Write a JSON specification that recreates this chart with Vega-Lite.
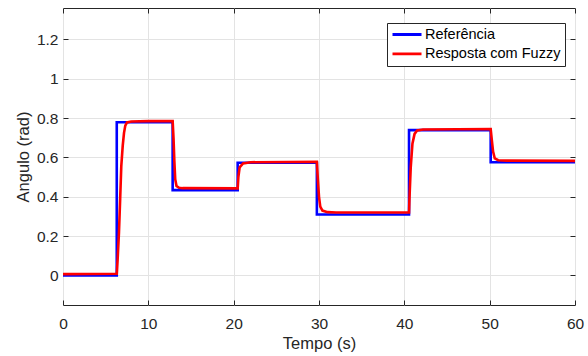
{
  "$schema": "https://vega.github.io/schema/vega-lite/v6.json",
  "width": 512,
  "height": 297,
  "autosize": {"type": "none"},
  "padding": {"left": 63, "top": 8, "right": 13, "bottom": 51},
  "background": "white",
  "config": {
    "font": "Liberation Sans",
    "view": {"stroke": "#262626", "strokeWidth": 1},
    "axis": {
      "domain": false,
      "tickColor": "#262626",
      "tickSize": -5,
      "tickWidth": 1,
      "labelColor": "#262626",
      "labelFont": "Liberation Sans",
      "labelFontSize": 15.5,
      "titleColor": "#262626",
      "titleFont": "Liberation Sans",
      "titleFontSize": 16.5,
      "titleFontWeight": "normal",
      "gridColor": "#e3e3e3",
      "gridWidth": 1
    },
    "legend": {
      "labelFont": "Liberation Sans",
      "labelFontSize": 14.5,
      "labelColor": "#000000"
    }
  },
  "data": {
    "values": [
      {"t": 0, "v": 0, "s": "Referência"},
      {"t": 6.3, "v": 0, "s": "Referência"},
      {"t": 6.3, "v": 0.779, "s": "Referência"},
      {"t": 12.85, "v": 0.779, "s": "Referência"},
      {"t": 12.85, "v": 0.434, "s": "Referência"},
      {"t": 20.47, "v": 0.434, "s": "Referência"},
      {"t": 20.47, "v": 0.573, "s": "Referência"},
      {"t": 29.75, "v": 0.573, "s": "Referência"},
      {"t": 29.75, "v": 0.31, "s": "Referência"},
      {"t": 40.55, "v": 0.31, "s": "Referência"},
      {"t": 40.55, "v": 0.739, "s": "Referência"},
      {"t": 50.12, "v": 0.739, "s": "Referência"},
      {"t": 50.12, "v": 0.576, "s": "Referência"},
      {"t": 60, "v": 0.576, "s": "Referência"},
      {"t": 0, "v": 0.007, "s": "Resposta com Fuzzy"},
      {"t": 6.3, "v": 0.009, "s": "Resposta com Fuzzy"},
      {"t": 6.4, "v": 0.08, "s": "Resposta com Fuzzy"},
      {"t": 6.56, "v": 0.22, "s": "Resposta com Fuzzy"},
      {"t": 6.7, "v": 0.39, "s": "Resposta com Fuzzy"},
      {"t": 6.83, "v": 0.556, "s": "Resposta com Fuzzy"},
      {"t": 7.0, "v": 0.66, "s": "Resposta com Fuzzy"},
      {"t": 7.15, "v": 0.725, "s": "Resposta com Fuzzy"},
      {"t": 7.3, "v": 0.762, "s": "Resposta com Fuzzy"},
      {"t": 7.5, "v": 0.778, "s": "Resposta com Fuzzy"},
      {"t": 8.0, "v": 0.783, "s": "Resposta com Fuzzy"},
      {"t": 10.0, "v": 0.785, "s": "Resposta com Fuzzy"},
      {"t": 12.85, "v": 0.785, "s": "Resposta com Fuzzy"},
      {"t": 12.95, "v": 0.7, "s": "Resposta com Fuzzy"},
      {"t": 13.05, "v": 0.58, "s": "Resposta com Fuzzy"},
      {"t": 13.15, "v": 0.49, "s": "Resposta com Fuzzy"},
      {"t": 13.3, "v": 0.455, "s": "Resposta com Fuzzy"},
      {"t": 13.6, "v": 0.446, "s": "Resposta com Fuzzy"},
      {"t": 14.0, "v": 0.444, "s": "Resposta com Fuzzy"},
      {"t": 20.47, "v": 0.443, "s": "Resposta com Fuzzy"},
      {"t": 20.55, "v": 0.5, "s": "Resposta com Fuzzy"},
      {"t": 20.7, "v": 0.55, "s": "Resposta com Fuzzy"},
      {"t": 21.1, "v": 0.57, "s": "Resposta com Fuzzy"},
      {"t": 22.0, "v": 0.576, "s": "Resposta com Fuzzy"},
      {"t": 29.75, "v": 0.578, "s": "Resposta com Fuzzy"},
      {"t": 29.85, "v": 0.5, "s": "Resposta com Fuzzy"},
      {"t": 30.0, "v": 0.4, "s": "Resposta com Fuzzy"},
      {"t": 30.15, "v": 0.35, "s": "Resposta com Fuzzy"},
      {"t": 30.4, "v": 0.33, "s": "Resposta com Fuzzy"},
      {"t": 31.0, "v": 0.322, "s": "Resposta com Fuzzy"},
      {"t": 32.0, "v": 0.32, "s": "Resposta com Fuzzy"},
      {"t": 40.55, "v": 0.32, "s": "Resposta com Fuzzy"},
      {"t": 40.6, "v": 0.39, "s": "Resposta com Fuzzy"},
      {"t": 40.75, "v": 0.55, "s": "Resposta com Fuzzy"},
      {"t": 40.95, "v": 0.67, "s": "Resposta com Fuzzy"},
      {"t": 41.2, "v": 0.72, "s": "Resposta com Fuzzy"},
      {"t": 41.5, "v": 0.737, "s": "Resposta com Fuzzy"},
      {"t": 42.2, "v": 0.742, "s": "Resposta com Fuzzy"},
      {"t": 50.12, "v": 0.745, "s": "Resposta com Fuzzy"},
      {"t": 50.25, "v": 0.69, "s": "Resposta com Fuzzy"},
      {"t": 50.4, "v": 0.63, "s": "Resposta com Fuzzy"},
      {"t": 50.6, "v": 0.595, "s": "Resposta com Fuzzy"},
      {"t": 51.0, "v": 0.586, "s": "Resposta com Fuzzy"},
      {"t": 52.0, "v": 0.584, "s": "Resposta com Fuzzy"},
      {"t": 60, "v": 0.583, "s": "Resposta com Fuzzy"}
    ]
  },
  "layer": [
    {
      "transform": [{"filter": "datum.s === 'Referência'"}],
      "mark": {"type": "line", "strokeWidth": 2.6},
      "encoding": {
        "x": {
          "field": "t", "type": "quantitative",
          "scale": {"domain": [0, 60], "nice": false, "zero": false},
          "axis": {"orient": "bottom", "values": [0, 10, 20, 30, 40, 50, 60], "grid": true, "title": "Tempo (s)", "labelPadding": 16, "titlePadding": 4, "labelFlush": false}
        },
        "y": {
          "field": "v", "type": "quantitative",
          "scale": {"domain": [-0.15, 1.36], "nice": false, "zero": false},
          "axis": {"orient": "left", "values": [0, 0.2, 0.4, 0.6, 0.8, 1, 1.2], "format": "~g", "grid": true, "title": "Angulo (rad)", "labelPadding": 10, "titlePadding": 5, "labelFlush": false}
        },
        "color": {
          "field": "s", "type": "nominal",
          "scale": {"domain": ["Referência", "Resposta com Fuzzy"], "range": ["#0000ff", "#ff0000"]},
          "legend": {
            "title": null,
            "orient": "none",
            "legendX": 324,
            "legendY": 15,
            "symbolType": "stroke",
            "symbolSize": 841,
            "symbolStrokeWidth": 2.8,
            "labelOffset": 2,
            "padding": 4,
            "clipHeight": 15,
            "rowPadding": 3.4,
            "strokeColor": "#262626",
            "fillColor": "#ffffff"
          }
        },
        "order": {"value": null}
      }
    },
    {
      "transform": [{"filter": "datum.s === 'Resposta com Fuzzy'"}],
      "mark": {"type": "line", "strokeWidth": 2.6},
      "encoding": {
        "x": {
          "field": "t", "type": "quantitative",
          "scale": {"domain": [0, 60], "nice": false, "zero": false},
          "axis": {"orient": "top", "values": [0, 10, 20, 30, 40, 50, 60], "grid": false, "labels": false, "title": null}
        },
        "y": {
          "field": "v", "type": "quantitative",
          "scale": {"domain": [-0.15, 1.36], "nice": false, "zero": false},
          "axis": {"orient": "right", "values": [0, 0.2, 0.4, 0.6, 0.8, 1, 1.2], "grid": false, "labels": false, "title": null}
        },
        "color": {"field": "s", "type": "nominal"},
        "order": {"value": null}
      }
    }
  ],
  "resolve": {"scale": {"x": "independent", "y": "independent"}}
}
